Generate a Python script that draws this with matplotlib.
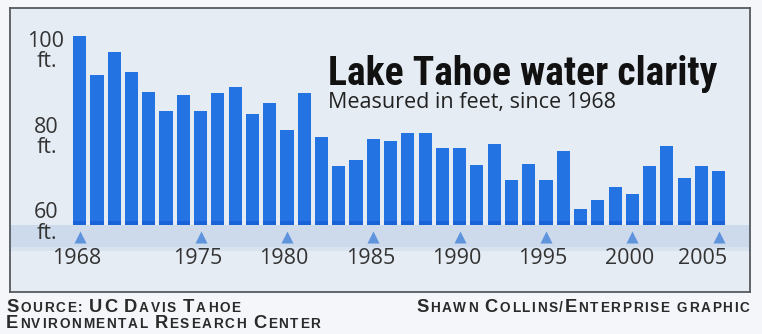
import matplotlib
matplotlib.use("Agg")
import matplotlib.pyplot as plt
from matplotlib.transforms import blended_transform_factory
from matplotlib.offsetbox import TextArea, HPacker, AnchoredOffsetbox
import numpy as np

# ---------------- data ----------------
years = list(range(1968, 2006))
clarity_ft = [101.3, 92.2, 97.7, 92.9, 88.2, 83.8, 87.5, 83.8, 88.1, 89.3,
              83.2, 85.7, 79.4, 88.0, 77.7, 71.0, 72.4, 77.3, 76.8, 78.7,
              78.7, 75.2, 75.2, 71.2, 76.1, 67.7, 71.4, 67.7, 74.5, 61.0,
              63.0, 66.1, 64.3, 71.0, 75.6, 68.1, 71.0, 69.8]
tick_years = [1968, 1975, 1980, 1985, 1990, 1995, 2000, 2005]
tick_labels = ["1968", "1975", "1980", "1985", "1990", "1995", "2000", "2005"]
y_ticks = [100, 80, 60]
y_tick_labels = ["100", "80", "60"]
title = "Lake Tahoe water clarity"
subtitle = "Measured in feet, since 1968"
source_lines = ["Source: UC Davis Tahoe", "Environmental Research Center"]
credit = "Shawn Collins/Enterprise graphic"

# ---------------- figure ----------------
W, H = 762, 334
fig = plt.figure(figsize=(W / 100, H / 100), dpi=100)
fig.patch.set_facecolor("#f4f6f9")

px_per_year = 17.27
px_per_ft = 4.28
x0_px, ref_year = 79.7, 1968
y_ref_px, ref_val = 41.7, 100
left_px, right_px, top_px, bot_px = 10, 749.5, 8.3, 291.7

ax = fig.add_axes([left_px / W, 1 - bot_px / H, (right_px - left_px) / W, (bot_px - top_px) / H])
ax.set_xlim(ref_year - (x0_px - left_px) / px_per_year, ref_year + (right_px - x0_px) / px_per_year)
ax.set_ylim(ref_val - (bot_px - y_ref_px) / px_per_ft, ref_val + (y_ref_px - top_px) / px_per_ft)
ax.set_facecolor("#e6ecf4")
for s in ax.spines.values():
    s.set_color("#555a60")
    s.set_linewidth(1.3)
ax.set_xticks([])
ax.set_yticks([])

base = 57.2
band_low = 52.0
ax.axhspan(band_low, base, color="#ccdaec", zorder=1, lw=0)
ax.axhspan(band_low - 1.0, band_low, color="#d9e3ef", zorder=1, lw=0)

vals = np.array(clarity_ft)
ax.bar(years, vals - base, bottom=base, width=0.76, color="#2473e3", zorder=3, lw=0)
ax.bar(years, 1.0, bottom=base, width=0.76, color="#1a62d8", zorder=4, lw=0)

ax.scatter(tick_years, [54.4] * len(tick_years), marker="^", s=75, color="#5f94dd",
           zorder=4, lw=0)

num_font = ["Open Sans", "DejaVu Sans"]
for yr, lab in zip(tick_years, tick_labels):
    dx = -3 if yr != tick_years[-1] else -16
    ax.annotate(lab, (yr, 49.4), xytext=(dx * 0.72, 0), textcoords="offset points",
                ha="center", va="center", fontsize=15.5, color="#333333",
                family=num_font, zorder=5)

tr = blended_transform_factory(fig.transFigure, ax.transData)
for v, lab in zip(y_ticks, y_tick_labels):
    ax.text(46 / W, v, lab, transform=tr, ha="center", va="center", fontsize=15.5,
            color="#333333", family=num_font, zorder=5)
    ax.annotate("ft.", (46 / W, v), xycoords=tr, xytext=(1, -14.5), textcoords="offset points",
                ha="center", va="center", fontsize=15.5, color="#333333",
                family=num_font, zorder=5)

fig.text(328 / W, 1 - 85 / H, title, ha="left", va="baseline", fontsize=28.5,
         fontweight="bold", color="#111111",
         family=["Roboto Condensed", "Liberation Sans", "DejaVu Sans"])
fig.text(328 / W, 1 - 108.3 / H, subtitle, ha="left", va="baseline", fontsize=15.5,
         color="#222222", family=num_font)

# ---------------- small-caps footer ----------------
overlay = fig.add_axes([0, 0, 1, 1], facecolor="none")
overlay.set_axis_off()
overlay.set_xlim(0, 1)
overlay.set_ylim(0, 1)


def small_caps(text, big=13.2, small=9.8, color="#2a2a2a", track=1.2):
    kids = []
    for ch in text:
        is_big = ch.isupper()
        kids.append(TextArea(ch.upper(), textprops=dict(
            fontsize=big if is_big else small, fontweight="bold", color=color,
            family=["Liberation Sans", "DejaVu Sans"])))
    return HPacker(children=kids, align="baseline", pad=0, sep=track)


def place(box, x, y, loc):
    ab = AnchoredOffsetbox(loc=loc, child=box, pad=0, borderpad=0, frameon=False,
                           bbox_to_anchor=(x, y), bbox_transform=fig.transFigure)
    overlay.add_artist(ab)


place(small_caps(source_lines[0]), 6 / W, 1 - 298.5 / H, "upper left")
place(small_caps(source_lines[1]), 6 / W, 1 - 315.5 / H, "upper left")
place(small_caps(credit), 749 / W, 1 - 298.5 / H, "upper right")

fig.savefig("out.png", dpi=100, facecolor=fig.get_facecolor())
